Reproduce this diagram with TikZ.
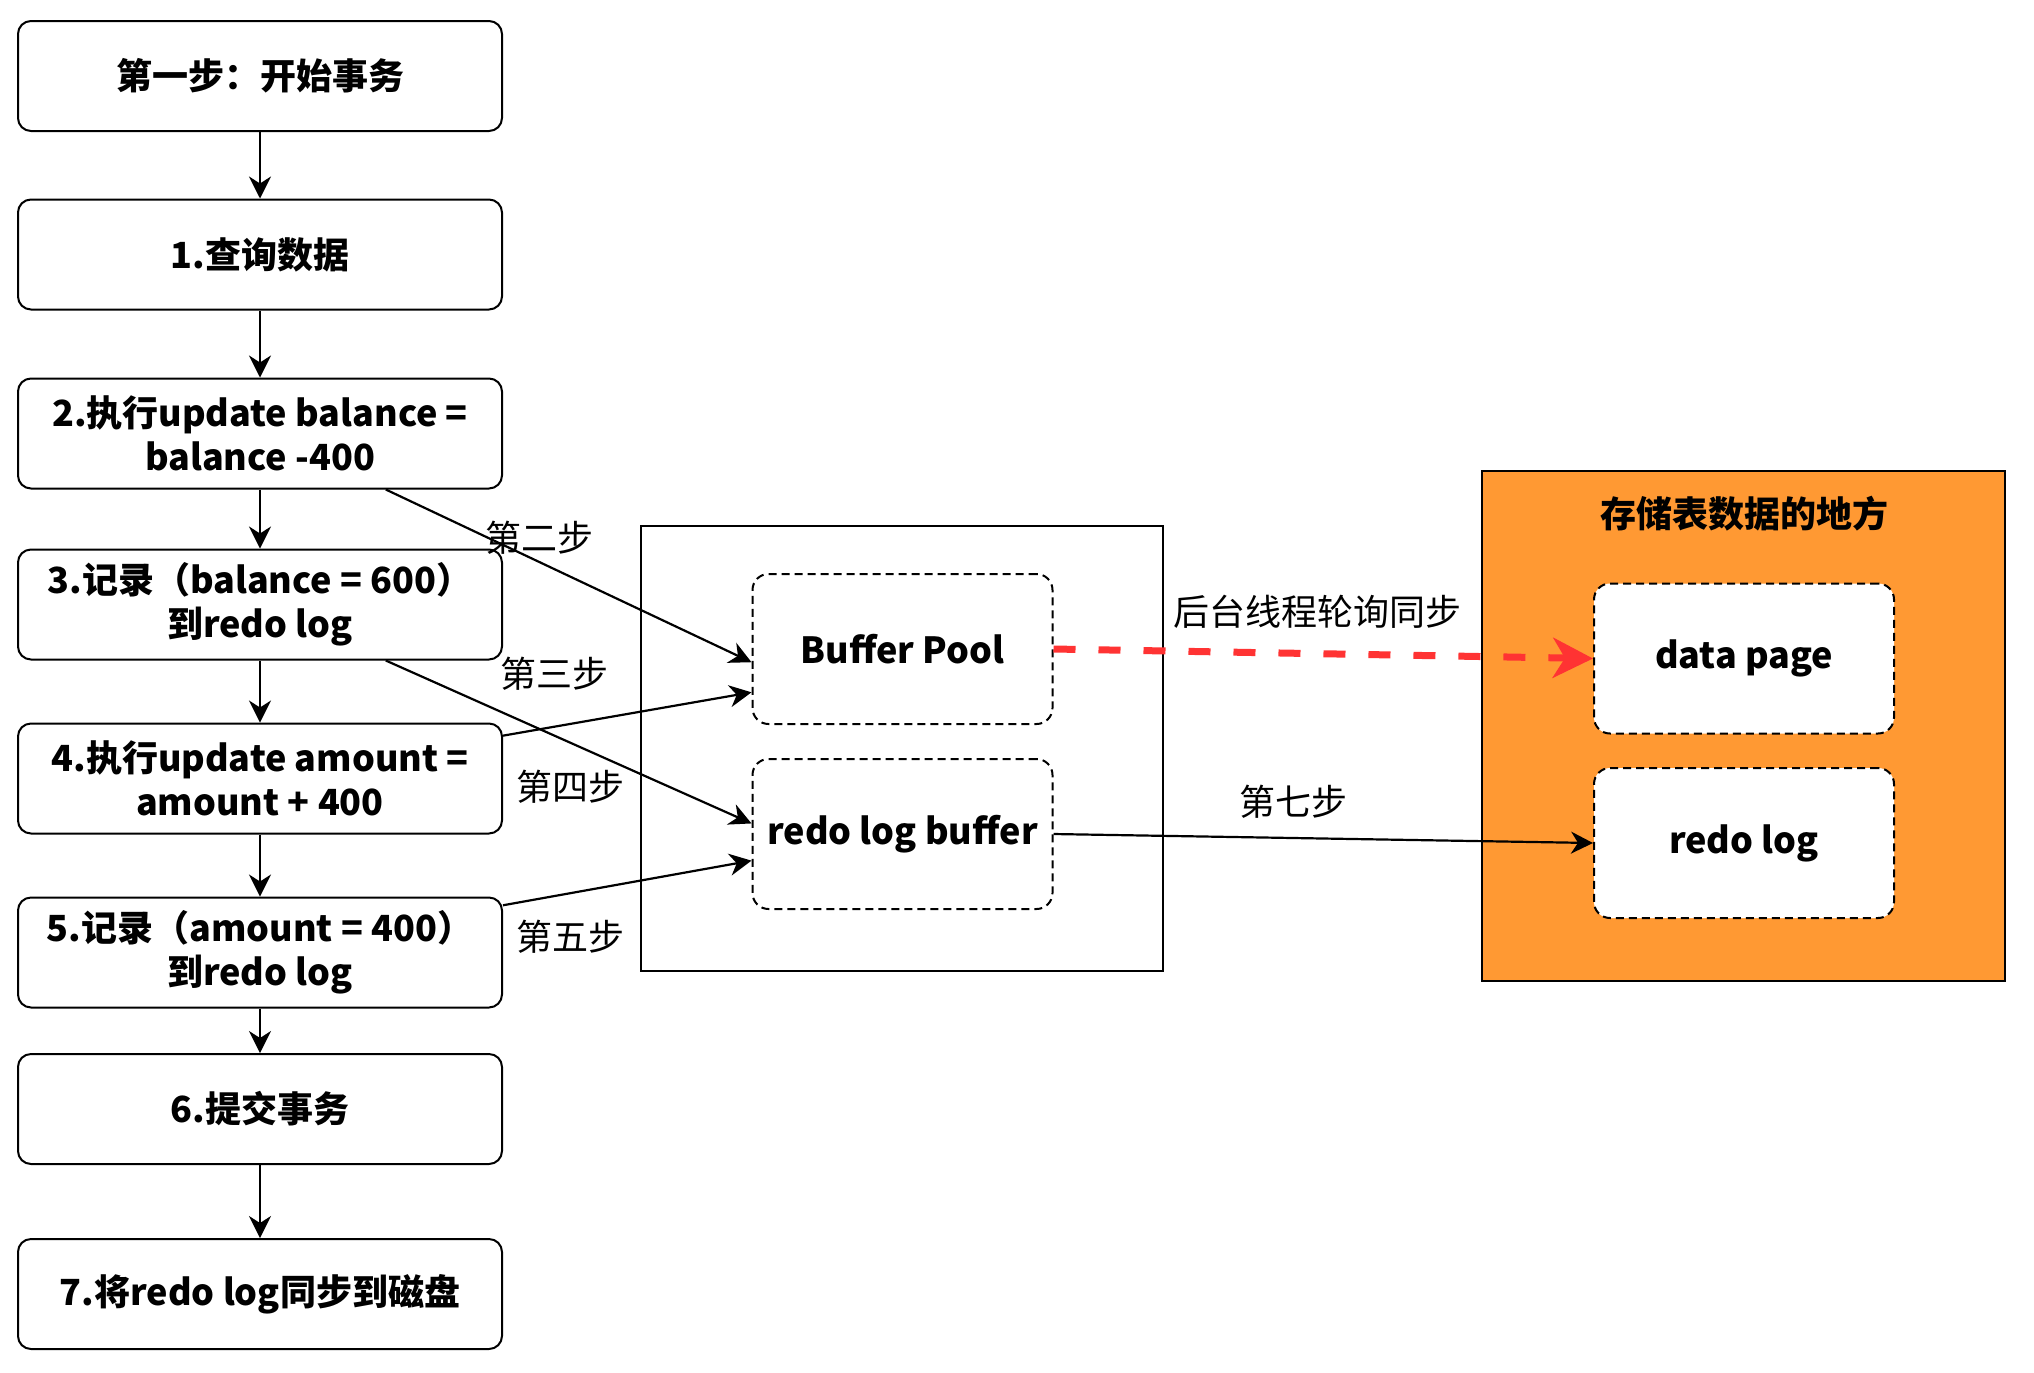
\documentclass[tikz,border=0pt]{standalone}
\usepackage{fontspec}
\setmainfont{Noto Sans CJK SC}
\usetikzlibrary{arrows.meta}
\definecolor{boxorange}{HTML}{FF9933}
\definecolor{syncred}{HTML}{FF3333}
\tikzset{
  stepbox/.style={draw, line width=1pt, rounded corners=6.5pt, minimum width=242pt,
    minimum height=55pt, align=center, inner sep=2pt,
    font=\fontsize{18}{22}\selectfont\bfseries},
  bufbox/.style={draw, fill=white, line width=1pt, dash pattern=on 4pt off 2.5pt,
    rounded corners=8pt, minimum width=150pt, minimum height=75pt,
    font=\fontsize{18}{22}\selectfont\bfseries},
  frame/.style={draw, line width=1pt, minimum width=261pt},
  lbl/.style={text=black, inner sep=0pt, font=\fontsize{18}{22}\selectfont},
  syncline/.style={-{Stealth[length=20pt, width=20pt, inset=6pt]}, draw=syncred,
    line width=3.5pt, dash pattern=on 11pt off 11.5pt},
}
\begin{document}
\begin{tikzpicture}[>={Stealth[length=11pt, width=11pt, inset=3.5pt]}, line width=1.1pt]
    \def\x{0.5pt}
    \def\y{-0.5pt}
    \useasboundingbox (0*\x, 0*\y) rectangle (2034*\x, 1372*\y);
    % frames
    \node [frame, minimum height=222.5pt] (M) at (902*\x, 748.5*\y) {};
    \node [frame, fill=boxorange, minimum width=261.5pt, minimum height=255pt] (D) at (1743.5*\x, 726*\y) {};
    \node [lbl, font=\fontsize{18}{22}\selectfont\bfseries] (D_t) at (1744*\x, 514*\y) {存储表数据的地方};
    % steps
    \node [stepbox] (A0_0) at (260*\x, 76*\y) {第一步：开始事务};
    \node [stepbox] (A1_0) at (260*\x, 254.5*\y) {1.查询数据};
    \node [stepbox] (A2_0) at (260*\x, 433.5*\y) {2.执行update balance =\\balance -400};
    \node [stepbox] (A3_0) at (260*\x, 604.5*\y) {3.记录（balance = 600）\\到redo log};
    \node [stepbox] (A4_0) at (260*\x, 778.5*\y) {4.执行update amount =\\amount + 400};
    \node [stepbox] (A5_0) at (260*\x, 952.5*\y) {5.记录（amount = 400）\\到redo log};
    \node [stepbox] (A6_0) at (260*\x, 1109*\y) {6.提交事务};
    \node [stepbox] (A7_0) at (260*\x, 1294*\y) {7.将redo log同步到磁盘};
    % buffers and disk
    \node [bufbox] (B0_0) at (902.5*\x, 649*\y) {Buffer Pool};
    \node [bufbox] (B1_0) at (902.5*\x, 834*\y) {redo log buffer};
    \node [bufbox] (C0_0) at (1744*\x, 658.5*\y) {data page};
    \node [bufbox] (C1_0) at (1744*\x, 843*\y) {redo log};
    % flow
    \path (A0_0) edge [->] (A1_0);
    \path (A1_0) edge [->] (A2_0);
    \path (A2_0) edge [->] (A3_0);
    \path (A3_0) edge [->] (A4_0);
    \path (A4_0) edge [->] (A5_0);
    \path (A5_0) edge [->] (A6_0);
    \path (A6_0) edge [->] (A7_0);
    \path (A2_0.-24) edge [->] node [lbl, pos=.42, yshift=12.4pt] {第二步} (B0_0.185);
    \path (A3_0.-24) edge [->] node [lbl, pos=.46, yshift=30.8pt] {第三步} (B1_0.176);
    \path (A4_0.10) edge [->] node [lbl, pos=.27, yshift=-31.6pt] {第四步} (B0_0.196);
    \path (A5_0.11) edge [->] node [lbl, pos=.27, yshift=-21.8pt] {第五步} (B1_0.190);
    \path (B0_0.east) edge [syncline] node [lbl, pos=.49, yshift=20.8pt] {后台线程轮询同步} (C0_0.west);
    \path (B1_0.east) edge [->] node [lbl, pos=.445, yshift=18pt] {第七步} (C1_0.west);
  \end{tikzpicture}
\end{document}
